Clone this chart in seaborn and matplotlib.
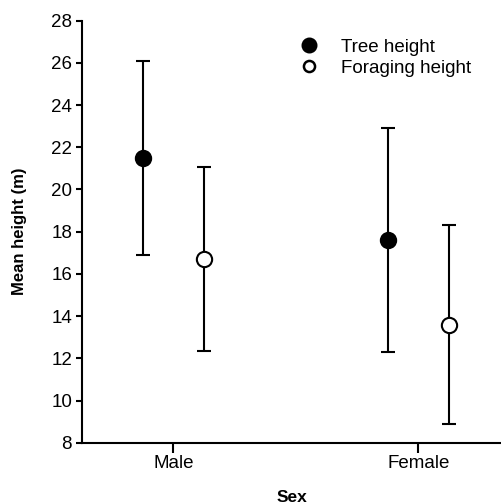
import matplotlib
matplotlib.use("Agg")
import matplotlib.pyplot as plt
import numpy as np
import seaborn as sb
from matplotlib.lines import Line2D

# values (mean +/- error)
sexes = ["Male", "Female"]
tree_mean = [21.5, 17.6]
tree_err = [4.6, 5.3]
forage_mean = [16.7, 13.6]
forage_err = [4.35, 4.7]

sb.set_style("ticks")
plt.rcParams["font.family"] = ["Liberation Sans", "DejaVu Sans"]
for key in ["text.color", "axes.labelcolor", "xtick.color", "ytick.color"]:
    plt.rcParams[key] = "black"

fig = plt.figure(figsize=(5.02, 5.04), dpi=100)
ax = fig.add_axes([0.1643, 0.1216, 0.8357, 0.8374])

pos = np.arange(len(sexes))
offset = 0.123
style = dict(color="black", ecolor="black", elinewidth=1.5, capsize=4.7,
             capthick=1.5, linestyle="none", marker="o", markersize=11,
             markeredgewidth=1.5, zorder=3)

ax.errorbar(pos - offset, tree_mean, yerr=tree_err, markerfacecolor="black", **style)
ax.errorbar(pos + offset, forage_mean, yerr=forage_err, markerfacecolor="white", **style)

ax.set_xlim(-0.371, 1.341)
ax.set_ylim(8, 28)
ax.set_xticks(pos)
ax.set_xticklabels(sexes)
ax.set_yticks(np.arange(8, 29, 2))
ax.tick_params(axis="y", length=4.5, width=1.5, labelsize=13.5, pad=3)
ax.tick_params(axis="x", length=7, width=1.5, labelsize=13.5, pad=2)
for side in ["left", "bottom"]:
    ax.spines[side].set_linewidth(1.5)
    ax.spines[side].set_color("black")
sb.despine(ax=ax)

ax.set_xlabel("Sex", fontsize=12.5, fontweight="bold", labelpad=13)
ax.set_ylabel("Mean height (m)", fontsize=12, fontweight="bold", labelpad=17)

handles = [
    Line2D([], [], marker="o", linestyle="none", color="black",
           markerfacecolor="black", markersize=10, markeredgewidth=1.5),
    Line2D([], [], marker="o", linestyle="none", color="black",
           markerfacecolor="white", markersize=8, markeredgewidth=1.8),
]
ax.legend(handles, ["Tree height", "Foraging height"], frameon=False,
          loc="upper left", bbox_to_anchor=(0.5, 0.975), fontsize=13.5,
          handlelength=1.0, handletextpad=1.2, labelspacing=0.2,
          borderaxespad=0)

fig.savefig("out.png", dpi=100)
